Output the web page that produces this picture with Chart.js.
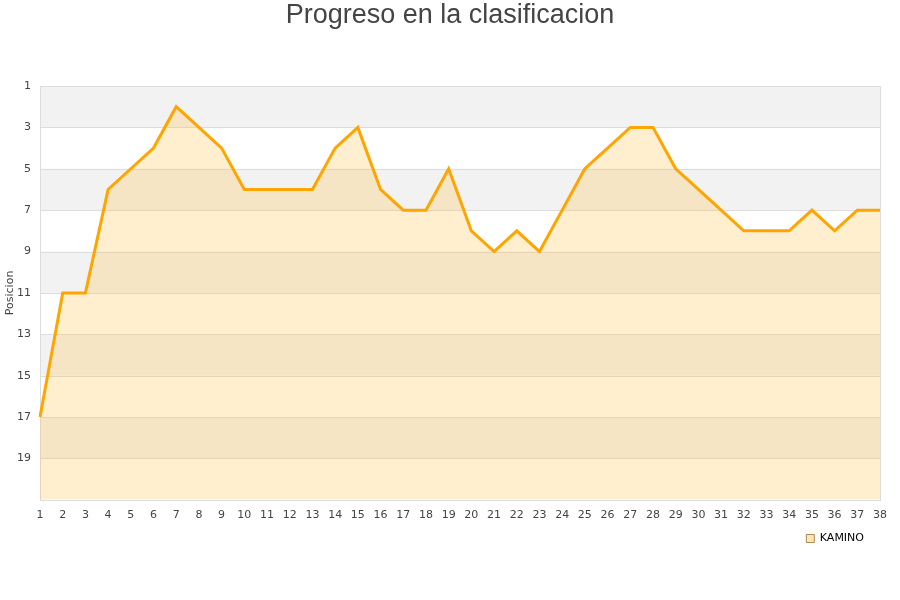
<!DOCTYPE html>
<html><head><meta charset="utf-8">
<script src="https://cdn.jsdelivr.net/npm/chart.js@4/dist/chart.umd.min.js"></script>
<style>html,body{margin:0;padding:0;background:#fff}#wrap{width:900px;height:600px}</style>
</head><body><div id="wrap"><canvas id="c" width="900" height="600"></canvas></div>
<script>
const rounds = ['1','2','3','4','5','6','7','8','9','10','11','12','13','14','15','16','17','18','19','20','21','22','23','24','25','26','27','28','29','30','31','32','33','34','35','36','37','38'];
const positions = [17,11,11,6,5,4,2,3,4,6,6,6,6,4,3,6,7,7,5,8,9,8,9,7,5,4,3,3,5,6,7,8,8,8,7,8,7,7];
const seriesName = 'KAMINO';
const chartTitle = 'Progreso en la clasificacion';
const yTitle = 'Posicion';
const bandStarts = [1,5,9,13,17];

const bands = {
  id: 'bands',
  afterLayout(chart) {
    if (chart.legend) { chart.legend.right -= 14; }
  },
  beforeDatasetsDraw(chart) {
    const {ctx, chartArea, scales} = chart;
    const y = scales.y;
    ctx.save();
    ctx.fillStyle = '#f2f2f2';
    bandStarts.forEach(v => {
      const a = y.getPixelForValue(v), b = y.getPixelForValue(v + 2);
      ctx.fillRect(chartArea.left, Math.min(a,b), chartArea.right - chartArea.left, Math.abs(b - a));
    });
    ctx.strokeStyle = '#dddddd';
    ctx.lineWidth = 1;
    y.ticks.forEach(t => {
      const p = Math.round(y.getPixelForValue(t.value)) + 0.5;
      ctx.beginPath(); ctx.moveTo(chartArea.left, p); ctx.lineTo(chartArea.right, p); ctx.stroke();
    });
    ctx.strokeRect(Math.round(chartArea.left)+0.5, Math.round(chartArea.top)+0.5, Math.round(chartArea.right-chartArea.left), Math.round(chartArea.bottom-chartArea.top));
    ctx.restore();
  },
  afterDraw(chart) {
    const ctx = chart.ctx;
    ctx.save();
    ctx.fillStyle = '#444';
    ctx.font = '27px "Liberation Sans"';
    ctx.textAlign = 'center';
    ctx.textBaseline = 'middle';
    ctx.fillText(chartTitle, chart.width / 2, 16);
    ctx.restore();
  }
};

new Chart(document.getElementById('c'), {
  type: 'line',
  data: {
    labels: rounds,
    datasets: [{
      label: seriesName,
      data: positions,
      borderColor: '#ffa500',
      borderWidth: 3,
      backgroundColor: 'rgba(255,190,60,0.25)',
      fill: {value: 21},
      pointRadius: 0,
      tension: 0
    }]
  },
  options: {
    responsive: false,
    animation: false,
    devicePixelRatio: 1,
    layout: {padding: {left: 0, right: 20, top: 86, bottom: 46}},
    plugins: {
      title: {display: false},
      legend: {position: 'bottom', align: 'end', labels: {boxWidth: 8, boxHeight: 8, padding: 2, color: '#111', font: {family: 'DejaVu Sans', size: 11}, generateLabels(chart) {
        return [{text: seriesName, fillStyle: '#fde3b9', strokeStyle: '#b08a50', lineWidth: 1, datasetIndex: 0}];
      }}},
      tooltip: {enabled: false}
    },
    scales: {
      x: {
        offset: false,
        grid: {display: false, drawTicks: false},
        border: {display: false},
        ticks: {color: '#444', font: {family: 'DejaVu Sans', size: 11}, maxRotation: 0, autoSkip: false, padding: 9}
      },
      y: {
        reverse: true,
        min: 1, max: 21,
        afterFit(scale) { scale.width = 40; },
        grid: {display: false, drawTicks: false},
        border: {display: false},
        ticks: {stepSize: 2, color: '#444', font: {family: 'DejaVu Sans', size: 11}, padding: 9,
          callback: (v) => v === 21 ? '' : v},
        title: {display: true, text: yTitle, color: '#444', font: {family: 'DejaVu Sans', size: 11}, padding: {top: 4, bottom: 0}}
      }
    }
  },
  plugins: [bands]
});
</script></body></html>
